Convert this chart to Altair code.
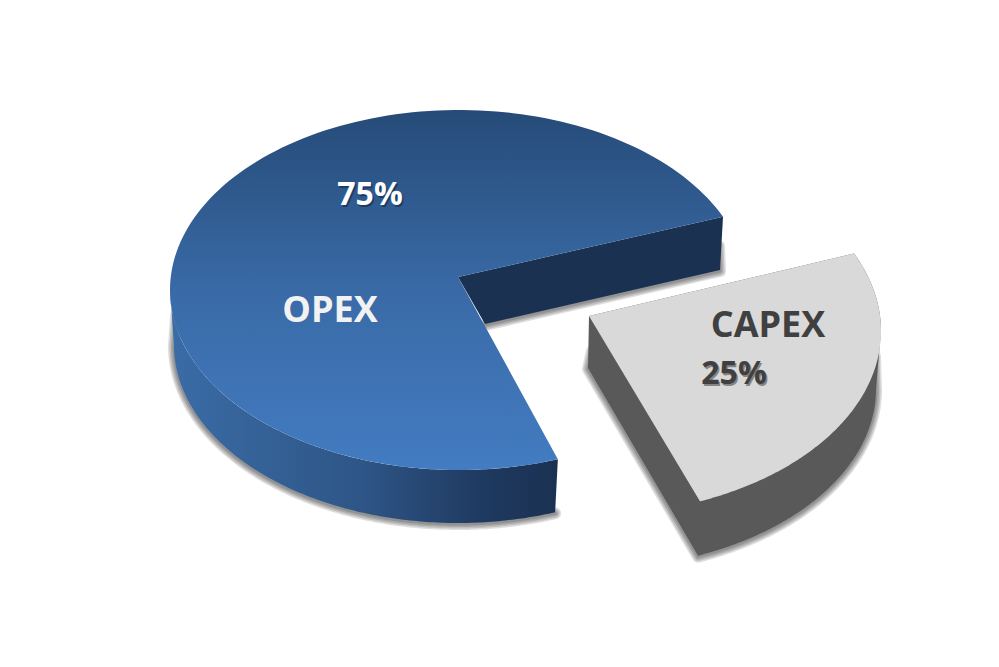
import numpy as np
import pandas as pd
import altair as alt

# ---- chart values ----
categories = ["OPEX", "CAPEX"]
shares = [75, 25]
share_labels = ["75%", "25%"]

# ---- tilted-pie view geometry (pixels of the 999x667 picture) ----
START_DEG = [24.0, 24.9]            # where each slice's rim begins
PERSPECTIVE_DEG = [-4.0, 2.7]       # sweep correction caused by the camera tilt
OPEX_APEX, OPEX_APEX_LOW = (458, 277), (485, 324)
OPEX_RIGHT_LOW = (720, 270)
CAPEX_APEX, CAPEX_APEX_LOW = (589, 316), (588, 368)
OPEX_TOP = dict(cx=459, cy=290, rx=289, ry=180)
OPEX_LOW = dict(cx=458, cy=345, rx=284, ry=178)
CAPEX_TOP = dict(cx=590, cy=331, rx=291, ry=184)
CAPEX_LOW = dict(cx=590, cy=389, rx=286, ry=180)

X = alt.X("x:Q", axis=None, scale=alt.Scale(domain=[8, 991], nice=False, zero=False))
Y = alt.Y("y:Q", axis=None, scale=alt.Scale(domain=[659, 8], nice=False, zero=False))


def arc(e, a, b, n=160):
    t = np.radians(np.linspace(a, b, n))
    return list(zip(e["cx"] + e["rx"] * np.cos(t), e["cy"] - e["ry"] * np.sin(t)))


def frame(pts, dx=0, dy=0):
    return pd.DataFrame(
        {"x": [p[0] + dx for p in pts], "y": [p[1] + dy for p in pts], "i": range(len(pts))}
    )


def shape(pts, fill):
    return (
        alt.Chart(frame(pts))
        .mark_line(fill=fill, strokeWidth=0)
        .encode(x=X, y=Y, order=alt.Order("i:Q"))
    )


def shadow(pts, widths=(12, 9, 6, 3), dx=0, dy=1):
    """Soft drop shadow: stacked translucent strokes along the lower outline only."""
    return [
        alt.Chart(frame(pts, dx, dy))
        .mark_line(stroke="#000000", strokeOpacity=0.13, strokeWidth=w,
                   strokeJoin="round", strokeCap="round")
        .encode(x=X, y=Y, order=alt.Order("i:Q"))
        for w in widths
    ]


def vgrad(*cols):
    n = len(cols) - 1
    return alt.Gradient(gradient="linear", x1=0, x2=0, y1=0, y2=1,
                        stops=[alt.GradientStop(offset=k / n, color=c) for k, c in enumerate(cols)])


def label(txt, x, y, color, size, shadow_color=None):
    d = pd.DataFrame({"x": [x], "y": [y], "t": [txt]})
    layers = []
    if shadow_color:
        layers.append(
            alt.Chart(d).mark_text(font="Open Sans", fontWeight="bold", fontSize=size, align="center",
                                   baseline="alphabetic", color=shadow_color, opacity=0.55,
                                   dx=1.5, dy=1.5)
            .encode(x=X, y=Y, text="t:N")
        )
    layers.append(
        alt.Chart(d).mark_text(font="Open Sans", fontWeight="bold", fontSize=size, align="center",
                               baseline="alphabetic", color=color)
        .encode(x=X, y=Y, text="t:N")
    )
    return layers


# ---- slice angles from the shares ----
op_a = START_DEG[0]
op_b = op_a + shares[0] * 3.6 + PERSPECTIVE_DEG[0]
cap_a = START_DEG[1]
cap_b = cap_a - shares[1] * 3.6 - PERSPECTIVE_DEG[1]

# OPEX
op_r_top = arc(OPEX_TOP, op_a, op_a, 1)[0]
op_top = [OPEX_APEX] + arc(OPEX_TOP, op_a, op_b)
op_front = arc(OPEX_TOP, 180, op_b) + arc(OPEX_LOW, op_b, 180)
op_inner = [OPEX_APEX, op_r_top, OPEX_RIGHT_LOW, OPEX_APEX_LOW, OPEX_APEX]

# CAPEX
cap_top = [CAPEX_APEX] + arc(CAPEX_TOP, cap_a, cap_b)
cap_side = [CAPEX_APEX, CAPEX_APEX_LOW] + arc(CAPEX_LOW, cap_b, 0) + arc(CAPEX_TOP, 0, cap_a)

layers = []
layers += shadow([(176, 315)] + arc(OPEX_LOW, 180, op_b))
layers += shadow([OPEX_APEX_LOW, OPEX_RIGHT_LOW, (719, 245)])
layers += shadow([(592, 350), CAPEX_APEX_LOW] + arc(CAPEX_LOW, cap_b, 0) + [(875, 355)])

front_grad = alt.Gradient(
    gradient="linear", x1=0, x2=1, y1=0, y2=0,
    stops=[alt.GradientStop(offset=0, color="#3A6CA6"),
           alt.GradientStop(offset=0.5, color="#2E5586"),
           alt.GradientStop(offset=0.8, color="#1F3A60"),
           alt.GradientStop(offset=1, color="#1A3152")],
)
layers.append(shape(op_inner, "#1A3152"))
layers.append(shape(op_front, front_grad))
layers.append(shape(op_top, vgrad("#264B78", "#396AA6", "#437CC2")))
layers.append(shape(cap_side, "#595959"))
layers.append(shape(cap_top, "#D9D9D9"))

layers += label(categories[0], 330, 322, "#F2F2F2", 36)
layers += label(share_labels[0], 370, 205, "#FFFFFF", 32, "#10233f")
layers += label(categories[1], 768, 337, "#404040", 36)
layers += label(share_labels[1], 734, 384, "#404040", 32, "#404040")

chart = (
    alt.layer(*layers)
    .properties(width=983, height=651, padding=0, autosize=alt.AutoSizeParams(type="none"),
                background="#FFFFFF")
    .configure_view(stroke=None)
)
chart.save("out.html", embed_options={"renderer": "svg", "actions": False})
